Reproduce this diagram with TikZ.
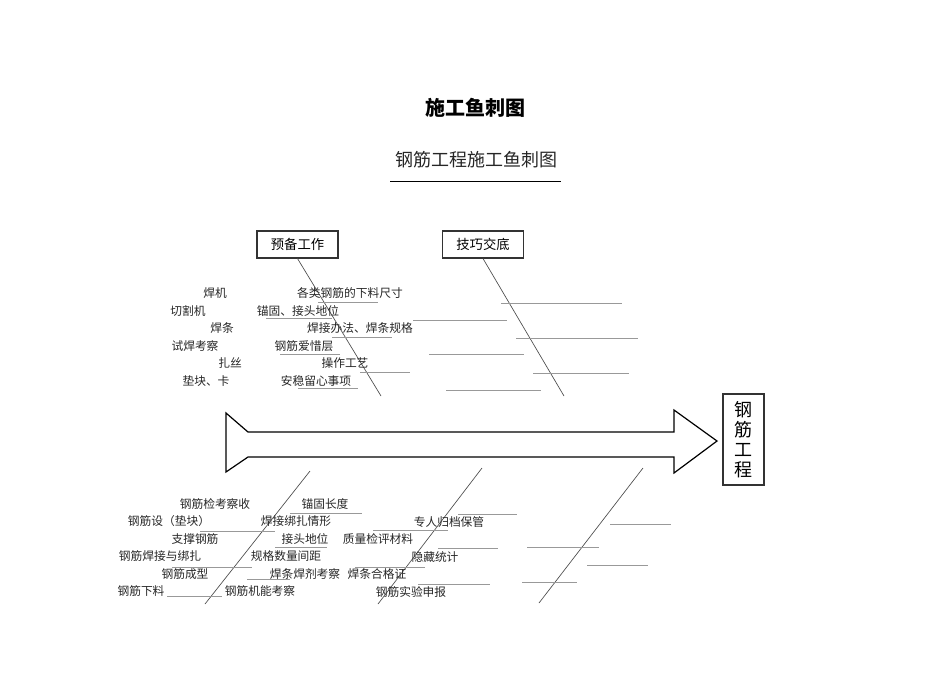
\documentclass[tikz,border=0pt]{standalone}
\usepackage{fontspec}
\setmainfont{Noto Sans CJK SC}
\begin{document}
\begin{tikzpicture}[x=0.75pt,y=-0.75pt,
  lbl/.style={inner sep=0pt, font=\fontsize{8.8}{10}\selectfont, text=black!85},
  cat/.style={draw=black!80, line width=0.8pt, minimum width=60.75pt, minimum height=20.25pt, inner sep=0pt, font=\fontsize{10}{12}\selectfont},
  bone/.style={draw=black!70, line width=0.5pt},
  uline/.style={draw=black!40, line width=0.5pt},
  spine/.style={draw=black, line width=0.9pt}]
\useasboundingbox (0,0) rectangle (950,672);

% titles
\node[inner sep=0pt, font=\fontsize{15}{18}\bfseries\selectfont] (title) at (475,108) {施工鱼刺图};
\node[inner sep=0pt, font=\fontsize{13.5}{16}\selectfont, text=black!85] (sub) at (476,160) {钢筋工程施工鱼刺图};
\coordinate (sl) at (390,181);
\coordinate (sr) at (561,181);
\draw[black, line width=0.6pt] (sl) -- (sr);

% category boxes
\node[cat] (b1) at (297.5,244.5) {预备工作};
\node[cat] (b2) at (483,244.5) {技巧交底};
\node[draw=black!80, line width=0.8pt, minimum width=30.75pt, minimum height=68.25pt, inner sep=0pt,
      font=\fontsize{13.5}{15}\selectfont, align=center] (head) at (743.5,439.5) {钢\\筋\\工\\程};

% upper bones
\coordinate (e1) at (381,396);
\coordinate (e2) at (564,396);
\draw[bone] (b1.south) -- (e1);
\draw[bone] (b2.south) -- (e2);

% lower bones
\coordinate (l1a) at (310,471); \coordinate (l1b) at (205,604);
\coordinate (l2a) at (482,468); \coordinate (l2b) at (378,604);
\coordinate (l3a) at (643,468); \coordinate (l3b) at (539,603);
\draw[bone] (l1a) -- (l1b);
\draw[bone] (l2a) -- (l2b);
\draw[bone] (l3a) -- (l3b);

% spine
\draw[spine, line join=miter] (226,413) -- (248,432) -- (674,432) -- (674,410) -- (717,441)
  -- (674,473) -- (674,457) -- (248,457) -- (226,472) -- cycle;

% upper-left labels
\node[lbl] (t1) at (215,293) {焊机};
\node[lbl] (t2) at (350,293) {各类钢筋的下料尺寸};
\node[lbl] (t3) at (188,311) {切割机};
\node[lbl] (t4) at (298,311) {锚固、接头地位};
\node[lbl] (t5) at (222,328) {焊条};
\node[lbl] (t6) at (360,328) {焊接办法、焊条规格};
\node[lbl] (t7) at (195,346) {试焊考察};
\node[lbl] (t8) at (304,346) {钢筋爱惜层};
\node[lbl] (t9) at (230,363) {扎丝};
\node[lbl] (t10) at (345,363) {操作工艺};
\node[lbl] (t11) at (206,381) {垫块、卡};
\node[lbl] (t12) at (316,381) {安稳留心事项};

% upper-left underlines
\draw[uline] (318,302) -- (378,302);
\draw[uline] (266,318) -- (332,318);
\draw[uline] (332,337) -- (392,337);
\draw[uline] (280,354) -- (340,354);
\draw[uline] (360,372) -- (410,372);
\draw[uline] (298,388) -- (358,388);

% upper-right lines
\draw[uline] (501,303) -- (622,303);
\draw[uline] (413,320) -- (507,320);
\draw[uline] (516,338) -- (638,338);
\draw[uline] (429,354) -- (524,354);
\draw[uline] (533,373) -- (629,373);
\draw[uline] (446,390) -- (541,390);

% lower labels
\node[lbl] (u1) at (215,504) {钢筋检考察收};
\node[lbl] (u2) at (325,504) {锚固长度};
\node[lbl] (u3) at (169,521) {钢筋设（垫块）};
\node[lbl] (u4) at (296,521) {焊接绑扎情形};
\node[lbl] (u5) at (449,522) {专人归档保管};
\node[lbl] (u6) at (195,539) {支撑钢筋};
\node[lbl] (u7) at (305,539) {接头地位};
\node[lbl] (u8) at (378,539) {质量检评材料};
\node[lbl] (u9) at (160,556) {钢筋焊接与绑扎};
\node[lbl] (u10) at (286,556) {规格数量间距};
\node[lbl] (u11) at (435,557) {隐藏统计};
\node[lbl] (u12) at (185,574) {钢筋成型};
\node[lbl] (u13) at (305,574) {焊条焊剂考察};
\node[lbl] (u14) at (377,574) {焊条合格证};
\node[lbl] (u15) at (141,591) {钢筋下料};
\node[lbl] (u16) at (260,591) {钢筋机能考察};
\node[lbl] (u17) at (411,592) {钢筋实验申报};

% lower lines
\draw[uline] (290,513) -- (362,513);
\draw[uline] (458,514) -- (517,514);
\draw[uline] (610,524) -- (671,524);
\draw[uline] (200,531) -- (275,531);
\draw[uline] (373,530) -- (448,530);
\draw[uline] (275,547) -- (327,547);
\draw[uline] (438,548) -- (498,548);
\draw[uline] (527,547) -- (599,547);
\draw[uline] (172,567) -- (252,567);
\draw[uline] (355,567) -- (425,567);
\draw[uline] (587,565) -- (648,565);
\draw[uline] (247,579) -- (290,579);
\draw[uline] (418,584) -- (490,584);
\draw[uline] (522,582) -- (577,582);
\draw[uline] (167,596) -- (222,596);
\end{tikzpicture}
\end{document}
